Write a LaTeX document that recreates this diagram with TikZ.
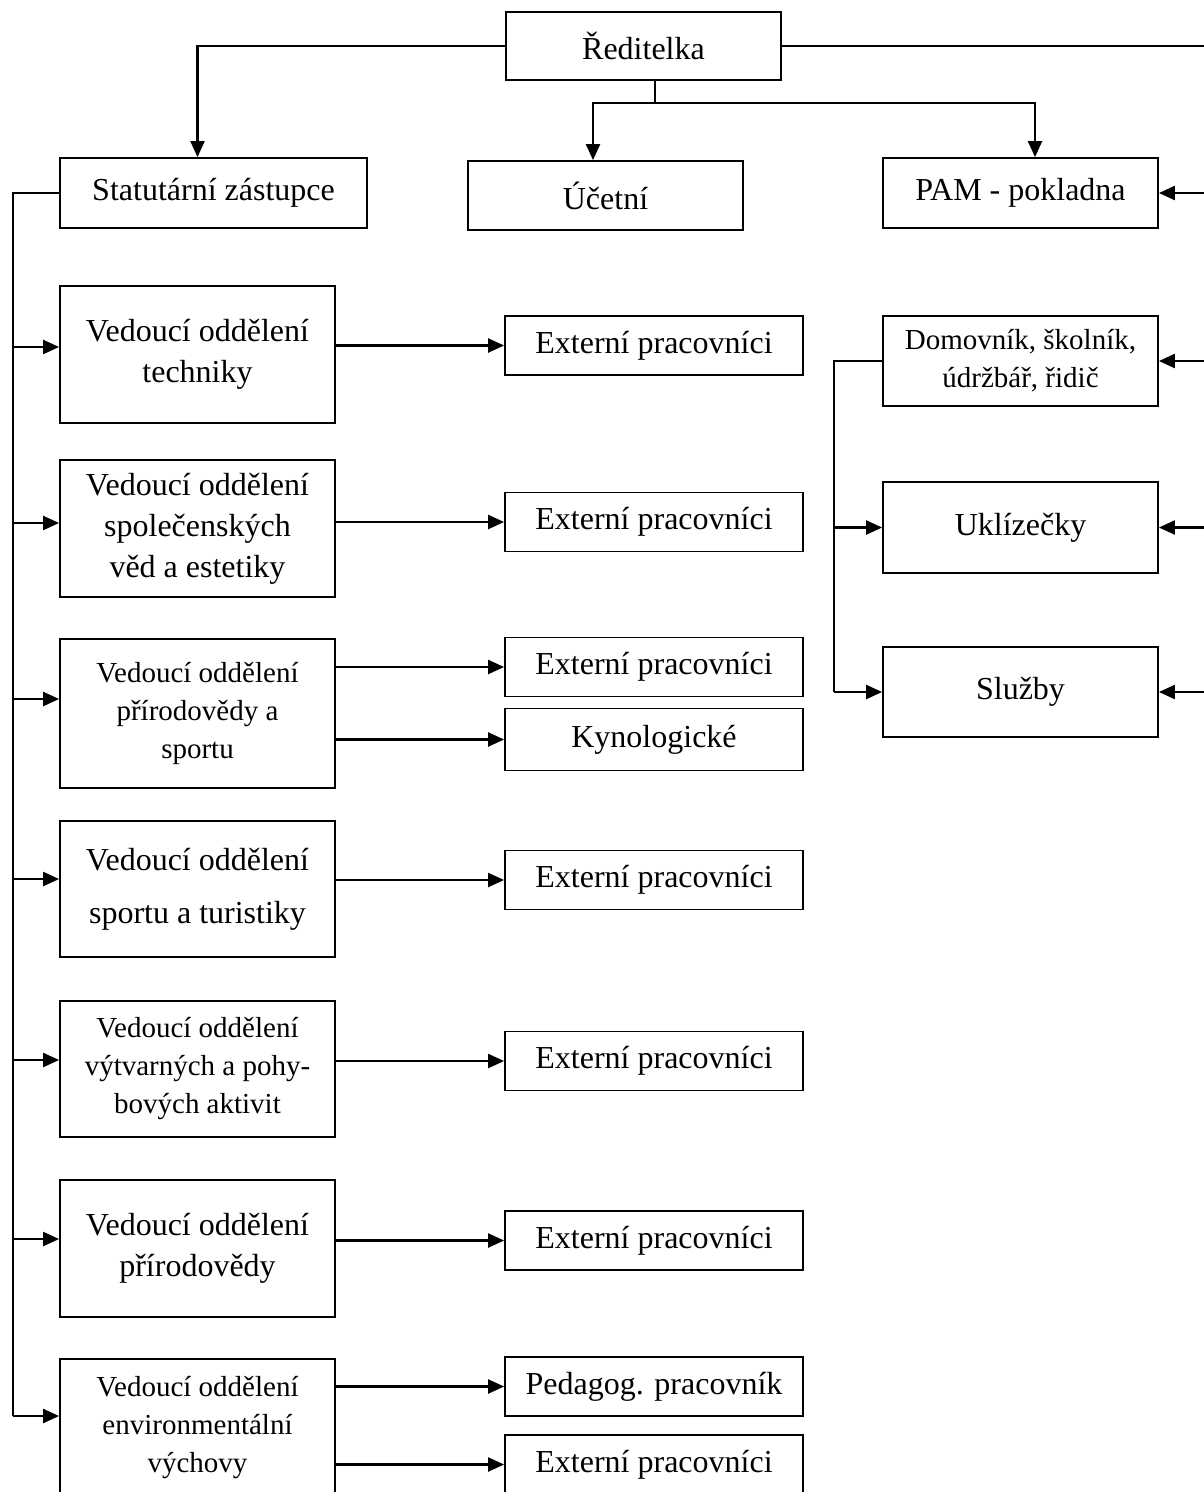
\documentclass[tikz,border=0pt]{standalone}
\usepackage{fontspec}
\setmainfont{Liberation Serif}
\usetikzlibrary{arrows.meta,positioning,calc}

\begin{document}
\begin{tikzpicture}[x=1pt, y=-1pt, line width=2.2pt,
    box/.style={draw, line width=1.8pt, rectangle, inner sep=0pt, align=center,
        font=\fontsize{32}{41}\selectfont},
    lbox/.style={box, minimum width=275pt, minimum height=137pt},
    ebox/.style={box, minimum width=298pt, minimum height=59pt},
    small/.style={font=\fontsize{29}{38}\selectfont},
    arr/.style={-{Triangle[length=16pt,width=14pt]}}]
    \useasboundingbox (0,0) rectangle (1203,1492);

    % Top level
    \node[box, minimum width=275pt, minimum height=68pt] (dir) at (643.5,46) {Ředitelka};
    \node[box, minimum width=307pt, minimum height=70pt] (stat) at (213.5,193) {Statutární zástupce};
    \node[box, minimum width=275pt, minimum height=69pt] (ucet) at (605.5,195.5) {Účetní};
    \node[box, minimum width=275pt, minimum height=70pt] (pam) at (1020.5,193) {PAM - pokladna};

    % Operations staff
    \node[box, small, minimum width=275pt, minimum height=90pt] (dom) at (1020.5,361) {Domovník, školník,\\údržbář, řidič};
    \node[box, minimum width=275pt, minimum height=91pt] (ukl) at (1020.5,527.5) {Uklízečky};
    \node[box, minimum width=275pt, minimum height=90pt] (slu) at (1020.5,692) {Služby};

    % Department heads
    \node[lbox] (v1) at (197.5,354.5) {Vedoucí oddělení\\techniky};
    \node[lbox] (v2) at (197.5,528.5) {Vedoucí oddělení\\společenských\\věd a estetiky};
    \node[lbox, small, minimum height=149pt] (v3) at (197.5,713.5) {Vedoucí oddělení\\přírodovědy a\\sportu};
    \node[lbox, font=\fontsize{32}{53}\selectfont, minimum height=136pt] (v4) at (197.5,889) {Vedoucí oddělení\\sportu a turistiky};
    \node[lbox, small, minimum height=136pt] (v5) at (197.5,1069) {Vedoucí oddělení\\výtvarných a pohy-\\bových aktivit};
    \node[lbox] (v6) at (197.5,1248.5) {Vedoucí oddělení\\přírodovědy};
    \node[lbox, small] (v7) at (197.5,1427.5) {Vedoucí oddělení\\environmentální\\výchovy};

    % Staff of the departments
    \node[ebox] (ext1) at (654,345.5) {Externí pracovníci};
    \node[ebox] (ext2) at (654,522) {Externí pracovníci};
    \node[ebox] (ext3) at (654,667) {Externí pracovníci};
    \node[ebox, minimum height=62pt] (kyn) at (654,739.5) {Kynologické};
    \node[ebox] (ext4) at (654,880) {Externí pracovníci};
    \node[ebox] (ext5) at (654,1061) {Externí pracovníci};
    \node[ebox] (ext6) at (654,1240.5) {Externí pracovníci};
    \node[ebox] (ped) at (654,1386.5) {Pedagog. pracovník};
    \node[ebox] (ext7) at (654,1464.5) {Externí pracovníci};

    % Director branches
    \draw[arr] (dir.west) -| (v1 |- stat.north);
    \coordinate (db) at (655,103);
    \coordinate (hl) at (593,103);
    \coordinate (hr) at (1035,103);
    \draw (db |- dir.south) -- (db);
    \draw[arr] (db) -- (hl) -- (hl |- ucet.north);
    \draw[arr] (db) -- (hr) -- (hr |- pam.north);

    % Right-hand bus
    \coordinate (rtop) at (1206,46);
    \coordinate (rbot) at (1206,692);
    \draw (dir.east) -- (rtop) -- (rbot);
    \foreach \b in {pam,dom,ukl,slu}
        \draw[arr] (rtop |- \b) -- (\b);

    % Operations bus
    \coordinate (dl) at (834,361);
    \draw (dom.west) -- (dl) -- (dl |- slu);
    \draw[arr] (dl |- ukl) -- (ukl);
    \draw[arr] (dl |- slu) -- (slu);

    % Left-hand bus
    \foreach \n/\y in {1/347,2/523,3/699,4/879,5/1060,6/1239,7/1416}
        \coordinate (s\n) at (13,\y);
    \draw (stat.west) -| (s7);
    \foreach \n in {1,...,7}
        \draw[arr] (s\n) -- (v\n.west |- s\n);

    % Departments to staff
    \foreach \a/\b in {v1/ext1,v2/ext2,v3/ext3,v3/kyn,v4/ext4,v5/ext5,v6/ext6,v7/ped,v7/ext7}
        \draw[arr] (\a.east |- \b) -- (\b);
\end{tikzpicture}
\end{document}
